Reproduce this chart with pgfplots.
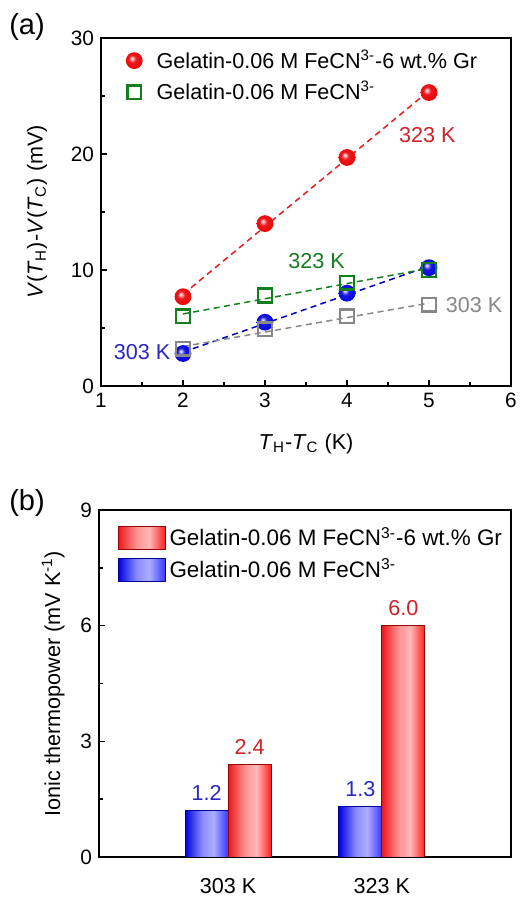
\documentclass[border=0pt]{standalone}
\usepackage{fontspec}
\setmainfont{Liberation Sans}
\usepackage{pgfplots}
\pgfplotsset{compat=1.18}

\definecolor{cRed}{RGB}{235,25,30}
\definecolor{cRedTxt}{RGB}{205,35,40}
\definecolor{cBlue}{RGB}{25,25,225}
\definecolor{cBlueTxt}{RGB}{40,40,190}
\definecolor{cGreen}{RGB}{20,125,30}
\definecolor{cGray}{RGB}{135,135,135}

% bar shadings (colour varies across the bar)
\pgfdeclarehorizontalshading{redbar}{100bp}{color(0bp)=(cRed); color(25bp)=(cRed); color(45bp)=(red!42); color(58bp)=(red!28); color(75bp)=(red!88); color(100bp)=(red!88)}
\pgfdeclarehorizontalshading{bluebar}{100bp}{color(0bp)=(blue!88!black); color(25bp)=(blue!88!black); color(45bp)=(blue!45); color(58bp)=(blue!32); color(75bp)=(blue!78); color(100bp)=(blue!78)}

% glossy sphere markers
\pgfdeclareradialshading{redsphere}{\pgfpoint{-7bp}{7bp}}{color(0bp)=(white); color(4bp)=(red!35); color(11bp)=(cRed); color(30bp)=(red!92!black); color(50bp)=(red!92!black)}
\pgfdeclareradialshading{bluesphere}{\pgfpoint{-7bp}{7bp}}{color(0bp)=(white); color(4bp)=(blue!35); color(11bp)=(cBlue); color(30bp)=(blue!88!black); color(50bp)=(blue!88!black)}
\pgfdeclareplotmark{redball}{\pgfpathcircle{\pgfpointorigin}{\pgfplotmarksize}\pgfshadepath{redsphere}{0}\pgfusepath{discard}}
\pgfdeclareplotmark{blueball}{\pgfpathcircle{\pgfpointorigin}{\pgfplotmarksize}\pgfshadepath{bluesphere}{0}\pgfusepath{discard}}

\pgfplotstableread{
x   y
2   7.7
3   14.0
4   19.7
5   25.3
}\grHot
\pgfplotstableread{
x   y
2   2.8
3   5.5
4   8.0
5   10.2
}\grCold
\pgfplotstableread{
x   y
2   6.0
3   7.8
4   8.9
5   10.0
}\plainHot
\pgfplotstableread{
x   y
2   3.2
3   4.9
4   6.0
5   7.0
}\plainCold

\newcommand\txt{\fontsize{10.8}{13}\selectfont}

\pgfplotsset{
  common/.style={
    scale only axis,
    anchor=south west,
    tick align=inside,
    xtick pos=bottom, ytick pos=left,
    major tick length=3pt, minor tick length=2pt,
    axis line style={line width=0.95pt},
    every tick/.style={black, line width=0.8pt},
    tick label style={font=\fontsize{10.4}{12}\selectfont},
    label style={font=\txt},
    /pgf/number format/assume math mode=true,
    legend cell align=left,
  },
}

\begin{document}
\begin{tikzpicture}
\useasboundingbox (0,0) rectangle (260.5pt,450pt);

% ---------------- panel (a) ----------------
\begin{axis}[common,
  at={(50.5pt,257pt)}, width=205pt, height=174pt,
  xmin=1, xmax=6, ymin=0, ymax=30,
  xtick={1,2,3,4,5,6}, ytick={0,10,20,30},
  minor x tick num=1, minor y tick num=1,
  xlabel={\textit{T}\textsubscript{H}-\textit{T}\textsubscript{C} (K)},
  ylabel={\textit{V}(\textit{T}\textsubscript{H})-\textit{V}(\textit{T}\textsubscript{C}) (mV)},
  xlabel style={yshift=-6pt},
  ylabel style={yshift=5pt},
  legend style={draw=none, fill=none, at={(0.045,0.99)}, anchor=north west,
    font=\txt, row sep=1pt,
    /tikz/every odd column/.append style={column sep=5pt}},
]
% linear fits
\addplot[cRed, line width=0.75pt, dash pattern=on 3pt off 2.2pt, forget plot] coordinates {(2,7.9) (5,25.45)};
\addplot[blue!75!black, line width=0.75pt, dash pattern=on 3pt off 2.2pt, forget plot] coordinates {(2,2.92) (5,10.33)};
\addplot[cGreen, line width=0.75pt, dash pattern=on 3pt off 2.2pt, forget plot] coordinates {(2,6.21) (5,10.14)};
\addplot[cGray, line width=0.75pt, dash pattern=on 3pt off 2.2pt, forget plot] coordinates {(2,3.4) (5,7.15)};
% measured points
\addplot[only marks, mark=redball, mark size=4.2pt] table[x=x,y=y] {\grHot};
\addlegendentry{Gelatin-0.06 M FeCN\textsuperscript{3-}-6 wt.\% Gr}
\addplot[only marks, mark=blueball, mark size=4.2pt, forget plot] table[x=x,y=y] {\grCold};
\addplot[only marks, mark=square, mark size=3.4pt, cGreen, line width=1.25pt] table[x=x,y=y] {\plainHot};
\addlegendentry{Gelatin-0.06 M FeCN\textsuperscript{3-}}
\addplot[only marks, mark=square, mark size=3.4pt, cGray, line width=1.25pt, forget plot] table[x=x,y=y] {\plainCold};

\node[cRedTxt, font=\txt] at (axis cs:4.98,21.6) {323 K};
\node[cGreen, font=\txt] at (axis cs:3.63,10.75) {323 K};
\node[cGray, font=\txt] at (axis cs:5.55,7.0) {303 K};
\node[cBlueTxt, font=\txt] at (axis cs:1.5,2.9) {303 K};
\end{axis}
\node[font=\fontsize{14.5}{16}\selectfont] at (13.5pt,436.5pt) {(a)};

% ---------------- panel (b) ----------------
\begin{axis}[common,
  at={(49.5pt,21.5pt)}, width=206pt, height=173.5pt,
  ybar, bar width=21.5pt,
  xmin=-0.84, xmax=1.84, ymin=0, ymax=9,
  xtick={0,1}, xticklabels={303 K,323 K},
  x tick style={draw=none},
  xticklabel style={font=\txt, yshift=-4pt},
  ytick={0,3,6,9}, minor y tick num=1,
  ylabel={Ionic thermopower (mV K\textsuperscript{-1})},
  ylabel style={yshift=1pt},
  nodes near coords={\pgfmathprintnumber[fixed,fixed zerofill,precision=1]{\pgfplotspointmeta}},
  every node near coord/.append style={font=\txt, yshift=1.5pt},
  legend style={draw=none, fill=none, at={(0.03,0.975)}, anchor=north west,
    font=\fontsize{11.2}{13}\selectfont, row sep=1pt},
  blue bars/.style={draw=blue!60!black, line width=0.4pt, shading=bluebar,
    bar shift=-10.75pt, every node near coord/.append style={cBlueTxt}},
  red bars/.style={draw=red!60!black, line width=0.4pt, shading=redbar,
    bar shift=10.75pt, every node near coord/.append style={cRedTxt}},
]
% one path per bar so every bar carries its own shading
\addplot[blue bars, forget plot] coordinates {(0,1.2)};
\addplot[blue bars, forget plot] coordinates {(1,1.3)};
\addplot[red bars, forget plot] coordinates {(0,2.4)};
\addplot[red bars, forget plot] coordinates {(1,6.0)};
\addlegendimage{legend image code/.code={\path[draw=red!60!black, line width=0.4pt, shading=redbar] (0pt,-5.8pt) rectangle (23.5pt,5.8pt);}}
\addlegendentry{Gelatin-0.06 M FeCN\textsuperscript{3-}-6 wt.\% Gr}
\addlegendimage{legend image code/.code={\path[draw=blue!60!black, line width=0.4pt, shading=bluebar] (0pt,-5.8pt) rectangle (23.5pt,5.8pt);}}
\addlegendentry{Gelatin-0.06 M FeCN\textsuperscript{3-}}
\end{axis}
\node[font=\fontsize{14.5}{16}\selectfont] at (13.5pt,198.5pt) {(b)};
\end{tikzpicture}
\end{document}
